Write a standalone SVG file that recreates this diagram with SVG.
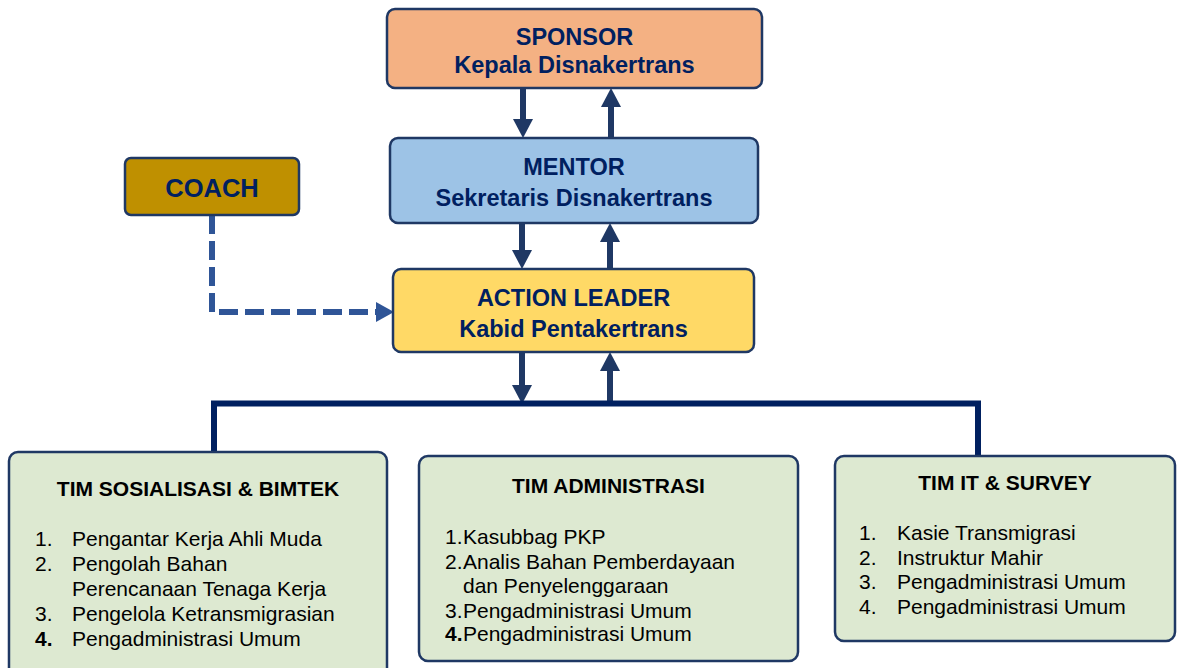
<svg xmlns="http://www.w3.org/2000/svg" width="1181" height="668" viewBox="0 0 1181 668">
  <style>
    .box { stroke: #1f3864; stroke-width: 2.5; }
    .head { font-family: "Liberation Sans", Arial, sans-serif; font-weight: bold; fill: #002060; text-anchor: middle; }
    .title { font-family: "Liberation Sans", Arial, sans-serif; font-weight: bold; fill: #000; text-anchor: middle; }
    .item { font-family: "Liberation Sans", Arial, sans-serif; font-size: 21px; fill: #000; }
    .flow { stroke: #1f3864; stroke-width: 6; fill: none; }
  </style>
  <defs>
    <marker id="arrow" viewBox="0 0 19 20" refX="0" refY="10" markerWidth="19" markerHeight="20" markerUnits="userSpaceOnUse" orient="auto">
      <path d="M0,0 L19,10 L0,20 Z" fill="#1f3864"/>
    </marker>
    <marker id="dash-arrow" viewBox="0 0 18 20" refX="0" refY="10" markerWidth="18" markerHeight="20" markerUnits="userSpaceOnUse" orient="auto">
      <path d="M0,0 L18,10 L0,20 Z" fill="#2f5597"/>
    </marker>
  </defs>

  <!-- connectors -->
  <g id="connectors">
    <!-- sponsor / mentor -->
    <line class="flow" x1="523" y1="88" x2="523" y2="119" marker-end="url(#arrow)"/>
    <line class="flow" x1="611" y1="138" x2="611" y2="107" marker-end="url(#arrow)"/>
    <!-- mentor / action leader -->
    <line class="flow" x1="522" y1="223" x2="522" y2="250" marker-end="url(#arrow)"/>
    <line class="flow" x1="610" y1="269" x2="610" y2="242" marker-end="url(#arrow)"/>
    <!-- action leader / teams bus -->
    <line class="flow" x1="522" y1="352" x2="522" y2="385" marker-end="url(#arrow)"/>
    <line class="flow" x1="610" y1="403" x2="610" y2="371" marker-end="url(#arrow)"/>
    <!-- team bus -->
    <path d="M214,453 V403.5 H978 V457" fill="none" stroke="#002060" stroke-width="6"/>
    <!-- coach to action leader (dashed) -->
    <path d="M212,215 V312 H376" fill="none" stroke="#2f5597" stroke-width="6" stroke-dasharray="19 7" marker-end="url(#dash-arrow)"/>
  </g>

  <g id="sponsor">
    <rect class="box" x="387" y="9" width="375" height="79" rx="8" fill="#f4b183"/>
    <text class="head" x="574.5" y="45" font-size="23.5">SPONSOR</text>
    <text class="head" x="574.5" y="73" font-size="23.5">Kepala Disnakertrans</text>
  </g>

  <g id="mentor">
    <rect class="box" x="390" y="138" width="368" height="85" rx="8" fill="#9dc3e6"/>
    <text class="head" x="574" y="175" font-size="23.5">MENTOR</text>
    <text class="head" x="574" y="206" font-size="23.5">Sekretaris Disnakertrans</text>
  </g>

  <g id="action-leader">
    <rect class="box" x="393" y="269" width="361" height="83" rx="8" fill="#ffd966"/>
    <text class="head" x="573.5" y="306" font-size="23.5">ACTION LEADER</text>
    <text class="head" x="573.5" y="337" font-size="23.5">Kabid Pentakertrans</text>
  </g>

  <g id="coach">
    <rect class="box" x="125" y="158" width="174" height="57" rx="6" fill="#bf9000"/>
    <text class="head" x="212" y="197" font-size="25.5">COACH</text>
  </g>

  <g id="tim-sosialisasi">
    <rect class="box" x="9" y="452" width="378" height="226" rx="9" fill="#dde9d1"/>
    <text class="title" x="198" y="496" font-size="21">TIM SOSIALISASI &amp; BIMTEK</text>
    <text class="item" x="35" y="546">1.</text>
    <text class="item" x="72" y="546">Pengantar Kerja Ahli Muda</text>
    <text class="item" x="35" y="571">2.</text>
    <text class="item" x="72" y="571">Pengolah Bahan</text>
    <text class="item" x="72" y="596">Perencanaan Tenaga Kerja</text>
    <text class="item" x="35" y="621">3.</text>
    <text class="item" x="72" y="621">Pengelola Ketransmigrasian</text>
    <text class="item" x="35" y="646" font-weight="bold">4.</text>
    <text class="item" x="72" y="646">Pengadministrasi Umum</text>
  </g>

  <g id="tim-administrasi">
    <rect class="box" x="419" y="456" width="379" height="205" rx="9" fill="#dde9d1"/>
    <text class="title" x="608.5" y="493" font-size="21">TIM ADMINISTRASI</text>
    <text class="item" x="445" y="544">1.</text>
    <text class="item" x="463" y="544">Kasubbag PKP</text>
    <text class="item" x="445" y="568.5">2.</text>
    <text class="item" x="463" y="568.5">Analis Bahan Pemberdayaan</text>
    <text class="item" x="463" y="593">dan Penyelenggaraan</text>
    <text class="item" x="445" y="617.5">3.</text>
    <text class="item" x="463" y="617.5">Pengadministrasi Umum</text>
    <text class="item" x="445" y="641" font-size="14" font-weight="bold">4.</text>
    <text class="item" x="463" y="641">Pengadministrasi Umum</text>
  </g>

  <g id="tim-it-survey">
    <rect class="box" x="835" y="456" width="340" height="185" rx="9" fill="#dde9d1"/>
    <text class="title" x="1005" y="490" font-size="21">TIM IT &amp; SURVEY</text>
    <text class="item" x="859" y="540">1.</text>
    <text class="item" x="897" y="540">Kasie Transmigrasi</text>
    <text class="item" x="859" y="564.5">2.</text>
    <text class="item" x="897" y="564.5">Instruktur Mahir</text>
    <text class="item" x="859" y="589">3.</text>
    <text class="item" x="897" y="589">Pengadministrasi Umum</text>
    <text class="item" x="859" y="613.5">4.</text>
    <text class="item" x="897" y="613.5">Pengadministrasi Umum</text>
  </g>
</svg>
